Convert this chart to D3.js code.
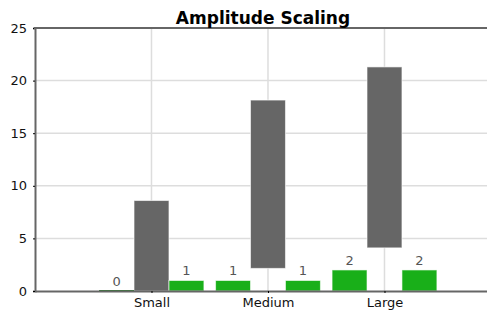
<!DOCTYPE html>
<html>
<head>
<meta charset="utf-8">
<script src="https://cdn.jsdelivr.net/npm/d3@7"></script>
<style>
  body { margin: 0; background: #fff; }
  svg { font-family: "DejaVu Sans", Verdana, sans-serif; }
</style>
</head>
<body>
<div id="chart"></div>
<script>
// data
var categories = ["Small", "Medium", "Large"];
var rangeLow = [0, 2.15, 4.1];       // grey floating bars
var rangeHigh = [8.6, 18.15, 21.3];
var leftValues = [0, 1, 2];          // green bar left of each group
var rightValues = [1, 1, 2];         // green bar right of each group
var yTicks = [0, 5, 10, 15, 20, 25];

var W = 487, H = 310;
var margin = {top: 28, right: 0, bottom: 19, left: 35};

var svg = d3.select("#chart").append("svg")
  .attr("width", W)
  .attr("height", H);

// x is numeric, categories sit at 1, 2, 3 and bars are 0.3 wide
var x = d3.scaleLinear()
  .domain([0, 3.88])
  .range([margin.left, W - margin.right]);

var y = d3.scaleLinear()
  .domain([0, 25])
  .range([H - margin.bottom, margin.top]);

var barW = 0.3;

// grid
svg.append("g")
  .selectAll("line")
  .data(yTicks.filter(function(d) { return d > 0 && d < 25; }))
  .join("line")
  .attr("x1", margin.left).attr("x2", W)
  .attr("y1", function(d) { return y(d); })
  .attr("y2", function(d) { return y(d); })
  .attr("stroke", "#ddd")
  .attr("stroke-width", 1.5);

svg.append("g")
  .selectAll("line")
  .data(categories)
  .join("line")
  .attr("x1", function(d, i) { return x(i + 1); })
  .attr("x2", function(d, i) { return x(i + 1); })
  .attr("y1", y(25)).attr("y2", y(0))
  .attr("stroke", "#ddd")
  .attr("stroke-width", 1.5);

// grey range bars
svg.append("g")
  .selectAll("rect")
  .data(categories)
  .join("rect")
  .attr("x", function(d, i) { return x(i + 1 - barW / 2); })
  .attr("width", x(barW) - x(0))
  .attr("y", function(d, i) { return y(rangeHigh[i]); })
  .attr("height", function(d, i) { return y(rangeLow[i]) - y(rangeHigh[i]); })
  .attr("fill", "#666")
  .attr("stroke", "rgba(255,255,255,0.6)")
  .attr("stroke-width", 1);

// green bars, left and right of each group
var greens = [];
categories.forEach(function(c, i) {
  greens.push({pos: i + 1 - barW, v: leftValues[i]});
  greens.push({pos: i + 1 + barW, v: rightValues[i]});
});

svg.append("g")
  .selectAll("rect")
  .data(greens)
  .join("rect")
  .attr("x", function(d) { return x(d.pos - barW / 2); })
  .attr("width", x(barW) - x(0))
  .attr("y", function(d) { return y(d.v) - (d.v === 0 ? 1 : 0); })
  .attr("height", function(d) { return Math.max(1, y(0) - y(d.v)); })
  .attr("fill", function(d) { return d.v === 0 ? "#2a7a2a" : "#19af19"; })
  .attr("stroke", "rgba(255,255,255,0.6)")
  .attr("stroke-width", function(d) { return d.v === 0 ? 0 : 1; });

svg.append("g")
  .selectAll("text")
  .data(greens)
  .join("text")
  .attr("x", function(d) { return x(d.pos); })
  .attr("y", function(d) { return y(d.v) - 5; })
  .attr("text-anchor", "middle")
  .attr("font-size", 13)
  .attr("fill", "#555")
  .text(function(d) { return d.v; });

// axes
var yAxis = svg.append("g")
  .attr("transform", "translate(" + margin.left + ",0)")
  .call(d3.axisLeft(y).tickValues(yTicks).tickSize(2).tickPadding(6));
yAxis.select(".domain").attr("stroke", "#666").attr("stroke-width", 2);
yAxis.selectAll(".tick line").attr("stroke", "#000");
yAxis.selectAll(".tick text").attr("font-size", 13).attr("fill", "#111")
  .attr("font-family", "DejaVu Sans, Verdana, sans-serif");

var xAxis = svg.append("g")
  .attr("transform", "translate(0," + y(0) + ")")
  .call(d3.axisBottom(x).tickValues([1, 2, 3])
    .tickFormat(function(d) { return categories[d - 1]; })
    .tickSize(2).tickSizeOuter(0).tickPadding(5));
xAxis.select(".domain").attr("stroke", "#666").attr("stroke-width", 2);
xAxis.selectAll(".tick line").attr("stroke", "#000");
xAxis.selectAll(".tick text").attr("font-size", 13).attr("fill", "#111")
  .attr("font-family", "DejaVu Sans, Verdana, sans-serif");

// top border
svg.append("line")
  .attr("x1", margin.left - 1).attr("x2", W)
  .attr("y1", y(25)).attr("y2", y(25))
  .attr("stroke", "#666")
  .attr("stroke-width", 2);

svg.append("text")
  .attr("x", 263)
  .attr("y", 24)
  .attr("text-anchor", "middle")
  .attr("font-size", 17)
  .attr("font-weight", "bold")
  .attr("fill", "#000")
  .text("Amplitude Scaling");
</script>
</body>
</html>
